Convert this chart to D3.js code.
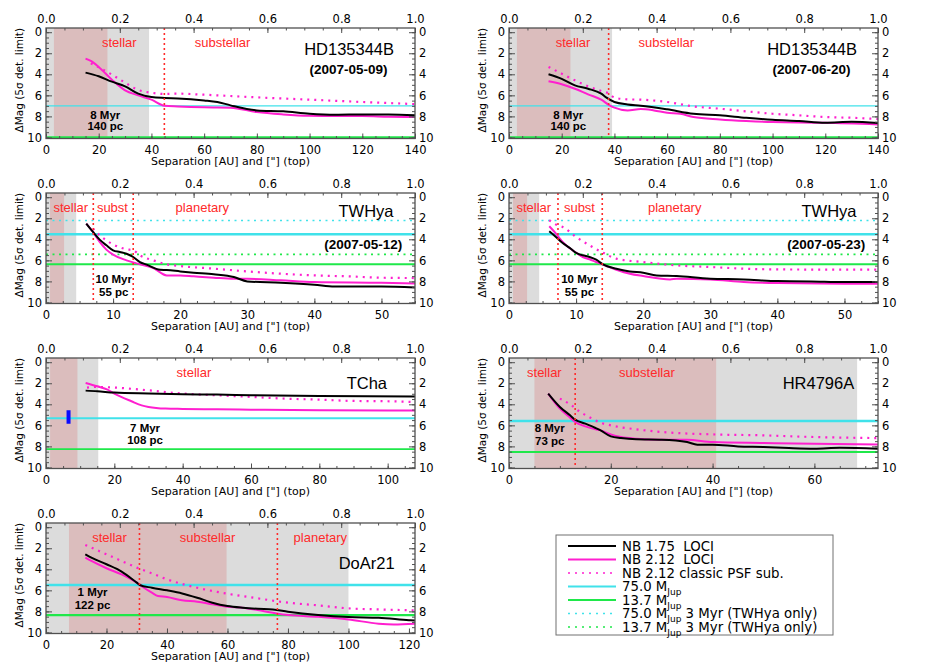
<!DOCTYPE html>
<html>
<head>
<meta charset="utf-8">
<script src="https://cdn.jsdelivr.net/npm/d3@7"></script>
<style>
  body { margin: 0; background: #fff; }
  svg { display: block; }
</style>
</head>
<body>
<svg id="chart" width="926" height="662"></svg>
<script>
// ---------- DATA ----------
const targets = ["HD135344B", "HD135344B", "TWHya", "TWHya", "TCha", "HR4796A", "DoAr21"];
const dates = ["(2007-05-09)", "(2007-06-20)", "(2007-05-12)", "(2007-05-23)", null, null, null];
const ages = ["8 Myr", "8 Myr", "10 Myr", "10 Myr", "7 Myr", "8 Myr", "1 Myr"];
const dists = ["140 pc", "140 pc", "55 pc", "55 pc", "108 pc", "73 pc", "122 pc"];
const xMax = [140, 140, 55, 55, 108, 72.5, 122];
const xStep = [20, 20, 10, 10, 20, 20, 20];

// shaded zones [from, to] in AU
const greyZone = [[0, 39.1], [0, 39.1], [0, 4.5], [0, 4.5], [0, 15.3], [0, 68.4], [0, 100]];
const roseZone = [[3, 23.3], [3, 23.3], [0.6, 2.7], [0.6, 2.7], [1.2, 9.2], [5, 40.7], [7.6, 59.7]];
// red dotted borders in AU
const cuts = [[44.9], [37.8], [7.05, 13.0], [7.3, 13.9], [], [13.0], [30.9, 76.5]];
const zoneNames = [
  ["stellar", "substellar"], ["stellar", "substellar"],
  ["stellar", "subst", "planetary"], ["stellar", "subst", "planetary"],
  ["stellar"], ["stellar", "substellar"], ["stellar", "substellar", "planetary"]
];

// mass limits (delta mag)
const m75 = [7.0, 7.0, 3.52, 3.52, 5.33, 5.59, 5.49];
const m137 = [10.0, 10.0, 6.38, 6.38, 8.25, 8.54, 8.35];
const m75young = [null, null, 2.22, 2.22, null, null, null];
const m137young = [null, null, 5.43, 5.43, null, null, null];

// TCha companion bar [AU, dmag from, dmag to]
const tChaBar = [6.6, 4.57, 5.84];

// contrast curves [AU, dmag]
const hd1Black = [[15,3.84],[20,4.19],[25,4.70],[30,5.14],[35,5.84],[40,6.16],[45,6.25],[50,6.29],[60,6.48],[65,6.63],[70,6.95],[80,7.43],[90,7.52],[100,7.75],[110,7.84],[120,7.81],[130,7.81],[140,7.90]];
const hd1Mag = [[15,2.51],[17,2.73],[20,3.30],[25,4.51],[30,5.52],[35,6.00],[40,6.41],[45,6.98],[50,7.05],[60,7.14],[70,7.17],[80,7.59],[90,7.81],[100,7.94],[110,7.97],[120,7.97],[130,8.03],[140,8.06]];
const hd1Psf = [[17,2.95],[20,3.33],[25,4.03],[30,4.79],[35,5.49],[40,5.75],[45,5.87],[50,5.84],[60,5.94],[80,6.19],[100,6.41],[120,6.63],[140,6.83]];

const hd2Black = [[15,4.00],[20,4.44],[25,5.05],[30,5.37],[35,5.84],[37,6.22],[40,6.63],[45,6.86],[50,6.98],[60,7.33],[70,7.75],[80,7.90],[90,8.13],[100,8.32],[110,8.44],[120,8.60],[130,8.51],[140,8.63]];
const hd2Mag = [[15,4.67],[20,4.95],[25,5.37],[30,5.90],[35,6.41],[38,6.92],[40,7.17],[45,7.43],[50,7.30],[55,7.43],[60,7.65],[65,7.75],[70,8.06],[80,8.29],[90,8.44],[100,8.54],[120,8.60],[140,8.76]];
const hd2Psf = [[15,3.30],[20,3.94],[25,4.57],[30,5.14],[35,5.59],[38,5.84],[40,6.22],[45,6.38],[50,6.41],[60,6.63],[70,7.05],[80,7.27],[90,7.52],[100,7.75],[110,7.90],[120,8.06],[130,8.13],[140,8.25]];

const tw1Black = [[6,2.51],[7,3.30],[8,4.03],[9,4.57],[10,5.05],[11,5.21],[12,5.37],[13,5.68],[14,6.16],[15,6.41],[17,6.89],[18,6.92],[20,7.05],[22,7.17],[25,7.33],[28,7.59],[30,8.00],[35,8.13],[40,8.32],[43,8.48],[50,8.48],[55,8.57]];
const tw1Mag = [[6,2.51],[7,3.30],[8,4.25],[9,4.98],[10,5.46],[12,6.00],[14,6.38],[16,6.73],[18,7.43],[20,7.43],[22,7.52],[25,7.65],[28,7.75],[30,7.75],[35,7.90],[40,8.06],[50,8.13],[55,8.19]];
const tw1Psf = [[7,2.98],[8,3.62],[10,4.48],[12,4.95],[13,5.05],[14,5.52],[16,6.00],[18,6.38],[20,6.54],[25,6.79],[30,7.05],[35,7.27],[40,7.43],[45,7.52],[50,7.65],[55,7.68]];

const tw2Black = [[6,3.24],[7,3.78],[8,4.35],[9,4.79],[10,5.30],[11,5.52],[12,5.68],[13,5.94],[14,6.38],[16,6.79],[18,7.05],[20,7.17],[22,7.43],[25,7.49],[30,7.75],[35,7.81],[40,7.97],[45,8.00],[50,8.06],[55,8.06]];
const tw2Mag = [[6,2.76],[7,3.46],[8,4.25],[9,4.83],[10,5.27],[11,5.68],[12,5.90],[13,6.16],[14,6.41],[16,6.89],[18,7.27],[20,7.49],[24,7.81],[25,7.75],[30,7.81],[35,8.06],[40,8.16],[50,8.22],[55,8.22]];
const tw2Psf = [[6,2.19],[7,2.60],[8,2.83],[10,3.78],[12,4.57],[14,5.27],[16,5.84],[20,6.16],[25,6.48],[30,6.63],[35,6.79],[40,6.86],[55,6.89]];

const tchBlack = [[11.6,2.70],[15,2.76],[20,2.89],[30,2.98],[40,3.05],[50,3.08],[60,3.14],[80,3.21],[108,3.25]];
const tchMag = [[11.6,1.97],[15,2.29],[18,2.60],[20,2.98],[22,3.30],[25,3.71],[28,4.10],[30,4.25],[35,4.41],[40,4.44],[50,4.48],[60,4.51],[80,4.57],[100,4.60],[108,4.60]];
const tchPsf = [[12,2.41],[15,2.35],[20,2.41],[30,2.67],[40,2.98],[50,3.14],[60,3.30],[70,3.46],[80,3.56],[90,3.68],[100,3.71],[108,3.78]];

const hrBlack = [[7.7,2.98],[10,4.25],[12,5.05],[13,5.46],[15,5.84],[17,6.25],[18,6.48],[20,7.05],[22,7.21],[25,7.33],[30,7.37],[35,7.59],[37,7.84],[40,7.84],[45,8.00],[50,8.06],[55,8.16],[60,8.22],[65,8.13],[72.5,8.22]];
const hrMag = [[7.7,2.98],[10,4.41],[12,5.27],[13,5.68],[15,6.10],[17,6.38],[18,6.48],[20,6.86],[22,7.11],[25,7.27],[30,7.37],[35,7.37],[40,7.59],[50,7.68],[60,7.75],[72.5,7.81]];
const hrPsf = [[10,3.46],[12,4.00],[14,4.73],[16,5.27],[18,5.75],[20,6.00],[25,6.38],[30,6.63],[40,6.86],[50,6.95],[60,7.11],[72.5,7.21]];

const doBlack = [[13,2.57],[15,2.89],[20,3.52],[25,4.22],[30,5.27],[31,5.49],[35,5.75],[40,6.00],[45,6.29],[50,6.70],[55,7.17],[60,7.49],[65,7.65],[70,7.75],[75,7.81],[80,8.03],[90,8.35],[100,8.54],[110,8.60],[120,8.83],[122,8.86]];
const doMag = [[13,2.89],[15,3.21],[20,3.90],[25,4.48],[30,5.27],[32,5.68],[35,6.22],[37,6.54],[40,6.63],[45,6.95],[50,7.08],[55,7.33],[60,7.56],[65,7.65],[70,7.87],[75,8.13],[80,8.35],[90,8.51],[100,8.76],[110,9.17],[115,9.24],[122,9.17]];
const doPsf = [[13,1.68],[15,1.94],[20,2.57],[25,3.21],[30,3.84],[35,4.38],[40,4.95],[50,5.75],[60,6.32],[70,6.76],[80,7.17],[90,7.43],[100,7.71],[110,7.81],[122,7.90]];

const blackCurves = [hd1Black, hd2Black, tw1Black, tw2Black, tchBlack, hrBlack, doBlack];
const magCurves = [hd1Mag, hd2Mag, tw1Mag, tw2Mag, tchMag, hrMag, doMag];
const psfCurves = [hd1Psf, hd2Psf, tw1Psf, tw2Psf, tchPsf, hrPsf, doPsf];

const legendLabels = ["NB 1.75  LOCI", "NB 2.12  LOCI", "NB 2.12 classic PSF sub.",
  "75.0 M|Jup", "13.7 M|Jup", "75.0 M|Jup| 3 Myr (TWHya only)", "13.7 M|Jup| 3 Myr (TWHya only)"];

// ---------- LAYOUT ----------
const BLACK = "#000000", MAGENTA = "#ff1fcf", CYAN = "#40e2ea", GREEN = "#1fe84a";
const RED = "#ff2a2a", GREY = "#dcdcdc", ROSE = "#dbbdbd", FRAME = "#505050";
const legendColors = [BLACK, MAGENTA, MAGENTA, CYAN, GREEN, CYAN, GREEN];
const legendDotted = [false, false, true, false, false, true, true];

const cellX = [46, 509];
const cellY = [28, 193, 358, 523];
const pw = 369, ph = 110.5;
const yDomain = [-0.4, 10.1];

// label anchors in data units: zone label x, name [x,y], date [x,y], age [x, y1, y2]
const zoneLabelX = [[27.8, 67], [24.3, 59.7], [3.7, 9.9, 23.3], [3.7, 10.5, 24.7], [43.3], [6.95, 27.1], [21, 53.4, 90.7]];
const nameAt = [[115, 2.13], [115, 2.13], [47.7, 1.87], [47.7, 1.87], [93.9, 2.51], [60.8, 2.51], [106, 4.0]];
const dateAt = [[114.8, 3.94], [114.8, 3.94], [47.3, 4.89], [47.3, 4.89], null, null, null];
const ageAt = [[22.5, 8.22, 9.33], [22.5, 8.22, 9.33], [10.1, 8.16, 9.4], [10.5, 8.16, 9.4], [29, 6.63, 7.81], [8, 6.63, 7.9], [15.4, 6.54, 7.81]];
const cyanW = [1.2, 1.2, 2.5, 2.5, 2, 2.5, 2.5];
const greenW = [2.6, 2.6, 2, 2, 1.8, 2, 2.2];

const svg = d3.select('#chart');
const defs = svg.append('defs');

const drawPanel = (i) => {
  const col = i % 2, row = Math.floor(i / 2);
  const g = svg.append('g').attr('transform', `translate(${cellX[col]},${cellY[row]})`);

  const x = d3.scaleLinear().domain([0, xMax[i]]).range([0, pw]);
  const xTop = d3.scaleLinear().domain([0, 1]).range([0, pw]);
  const y = d3.scaleLinear().domain(yDomain).range([0, ph]);

  defs.append('clipPath').attr('id', 'clip' + i)
    .append('rect').attr('width', pw).attr('height', ph);
  const plot = g.append('g').attr('clip-path', `url(#clip${i})`);

  // SHADED ZONES
  plot.append('rect')
    .attr('x', x(greyZone[i][0])).attr('width', x(greyZone[i][1]) - x(greyZone[i][0]))
    .attr('y', 0).attr('height', ph).attr('fill', GREY);
  plot.append('rect')
    .attr('x', x(roseZone[i][0])).attr('width', x(roseZone[i][1]) - x(roseZone[i][0]))
    .attr('y', 0).attr('height', ph).attr('fill', ROSE);

  // MASS LIMIT LINES
  const hline = (v, color, w, dotted) => {
    if (v === null) return;
    plot.append('line')
      .attr('x1', 0).attr('x2', pw).attr('y1', y(v)).attr('y2', y(v))
      .attr('stroke', color).attr('stroke-width', w)
      .attr('stroke-dasharray', dotted ? '2,4.5' : null);
  };
  hline(m75[i], CYAN, cyanW[i], false);
  hline(m137[i], GREEN, greenW[i], false);
  hline(m75young[i], CYAN, 1.6, true);
  hline(m137young[i], GREEN, 1.6, true);

  // CURVES
  const line = d3.line().x(d => x(d[0])).y(d => y(d[1])).curve(d3.curveMonotoneX);
  plot.append('path').datum(psfCurves[i])
    .attr('fill', 'none').attr('stroke', MAGENTA).attr('stroke-width', 2.2)
    .attr('stroke-dasharray', '2,5').attr('d', line);
  plot.append('path').datum(magCurves[i])
    .attr('fill', 'none').attr('stroke', MAGENTA).attr('stroke-width', 2).attr('d', line);
  plot.append('path').datum(blackCurves[i])
    .attr('fill', 'none').attr('stroke', BLACK).attr('stroke-width', 2).attr('d', line);

  // TCHA COMPANION
  if (targets[i] === "TCha") {
    plot.append('line')
      .attr('x1', x(tChaBar[0])).attr('x2', x(tChaBar[0]))
      .attr('y1', y(tChaBar[1])).attr('y2', y(tChaBar[2]))
      .attr('stroke', '#0a0aff').attr('stroke-width', 4);
  }

  // ZONE BORDERS
  cuts[i].forEach(c => {
    plot.append('line')
      .attr('x1', x(c)).attr('x2', x(c)).attr('y1', 0).attr('y2', ph)
      .attr('stroke', RED).attr('stroke-width', 1.6).attr('stroke-dasharray', '2,3');
  });

  // TEXTS
  zoneNames[i].forEach((t, k) => {
    g.append('text').attr('x', x(zoneLabelX[i][k])).attr('y', y(1.4))
      .attr('text-anchor', 'middle').attr('font-family', 'Liberation Sans, Arial, sans-serif')
      .attr('font-size', '13px').attr('fill', RED).text(t);
  });
  g.append('text').attr('x', x(nameAt[i][0])).attr('y', y(nameAt[i][1]))
    .attr('text-anchor', 'middle').attr('font-family', 'Liberation Sans, Arial, sans-serif')
    .attr('font-size', '16.5px').attr('fill', '#000').text(targets[i]);
  if (dates[i]) {
    g.append('text').attr('x', x(dateAt[i][0])).attr('y', y(dateAt[i][1]))
      .attr('text-anchor', 'middle').attr('font-family', 'Liberation Sans, Arial, sans-serif')
      .attr('font-weight', 'bold').attr('font-size', '13.5px').text(dates[i]);
  }
  g.append('text').attr('x', x(ageAt[i][0])).attr('y', y(ageAt[i][1]))
    .attr('text-anchor', 'middle').attr('font-family', 'Liberation Sans, Arial, sans-serif')
    .attr('font-weight', 'bold').attr('font-size', '11.5px').text(ages[i]);
  g.append('text').attr('x', x(ageAt[i][0])).attr('y', y(ageAt[i][2]))
    .attr('text-anchor', 'middle').attr('font-family', 'Liberation Sans, Arial, sans-serif')
    .attr('font-weight', 'bold').attr('font-size', '11.5px').text(dists[i]);

  // AXES
  const major = d3.range(0, xMax[i] + 0.001, xStep[i]);
  const minor = d3.range(0, xMax[i] + 0.001, xStep[i] / 4);
  const yMajor = d3.range(0, 10.001, 2);
  const yMinor = d3.range(0, 10.001, 0.5);
  const topMajor = d3.range(0, 1.0001, 0.2);
  const topMinor = d3.range(0, 1.0001, 0.05);

  const style = sel => {
    sel.select('.domain').remove();
    sel.selectAll('line').attr('stroke', FRAME).attr('stroke-width', 1);
    sel.selectAll('text').attr('font-family', 'DejaVu Sans, sans-serif').attr('font-size', '11.5px').attr('fill', '#000');
  };

  g.append('g').attr('transform', `translate(0,${ph})`)
    .call(d3.axisBottom(x).tickValues(minor).tickSize(-2.5).tickFormat('')).call(style);
  g.append('g').attr('transform', `translate(0,${ph})`)
    .call(d3.axisBottom(x).tickValues(major).tickSize(-5).tickPadding(7).tickFormat(d3.format('d'))).call(style);

  g.append('g')
    .call(d3.axisTop(xTop).tickValues(topMinor).tickSize(-2.5).tickFormat('')).call(style);
  g.append('g')
    .call(d3.axisTop(xTop).tickValues(topMajor).tickSize(-5).tickPadding(5).tickFormat(d3.format('.1f'))).call(style);

  g.append('g')
    .call(d3.axisLeft(y).tickValues(yMinor).tickSize(-3).tickFormat('')).call(style);
  g.append('g')
    .call(d3.axisLeft(y).tickValues(yMajor).tickSize(-6).tickPadding(4).tickFormat(d3.format('d'))).call(style);
  g.append('g').attr('transform', `translate(${pw},0)`)
    .call(d3.axisRight(y).tickValues(yMinor).tickSize(-3).tickFormat('')).call(style);
  g.append('g').attr('transform', `translate(${pw},0)`)
    .call(d3.axisRight(y).tickValues(yMajor).tickSize(-6).tickPadding(4).tickFormat(d3.format('d'))).call(style);

  // FRAME
  g.append('rect').attr('width', pw).attr('height', ph)
    .attr('fill', 'none').attr('stroke', FRAME).attr('stroke-width', 1.3);

  // AXIS TITLES
  g.append('text').attr('x', pw / 2).attr('y', ph + 26.5)
    .attr('text-anchor', 'middle').attr('font-family', 'DejaVu Sans, sans-serif')
    .attr('font-size', '11px').text('Separation [AU] and ["] (top)');
  g.append('text').attr('transform', `translate(-23,${ph / 2 - 3}) rotate(-90)`)
    .attr('text-anchor', 'middle').attr('font-family', 'DejaVu Sans, sans-serif')
    .attr('font-size', '10.5px').text('ΔMag (5σ det. limit)');
};

targets.forEach((t, i) => drawPanel(i));

// LEGEND
const lg = svg.append('g').attr('transform', 'translate(556,535)');
lg.append('rect').attr('width', 277).attr('height', 100)
  .attr('fill', '#fff').attr('stroke', '#707070').attr('stroke-width', 1);
const rowStep = 13.5;
legendLabels.forEach((lab, k) => {
  const yy = 11 + k * rowStep;
  lg.append('line').attr('x1', 12).attr('x2', 60).attr('y1', yy).attr('y2', yy)
    .attr('stroke', legendColors[k]).attr('stroke-width', legendDotted[k] ? 1.6 : 1.8)
    .attr('stroke-dasharray', legendDotted[k] ? '2,5' : null);
  const parts = lab.split('|');
  const t = lg.append('text').attr('x', 66).attr('y', yy + 4.5)
    .attr('font-family', 'DejaVu Sans, sans-serif').attr('font-size', '13.3px')
    .style('white-space', 'pre');
  t.append('tspan').text(parts[0]);
  if (parts.length > 1) {
    t.append('tspan').attr('dy', 4).attr('font-size', '9px').text(parts[1]);
    if (parts[2]) t.append('tspan').attr('dy', -4).text(parts[2]);
  }
});
</script>
</body>
</html>
